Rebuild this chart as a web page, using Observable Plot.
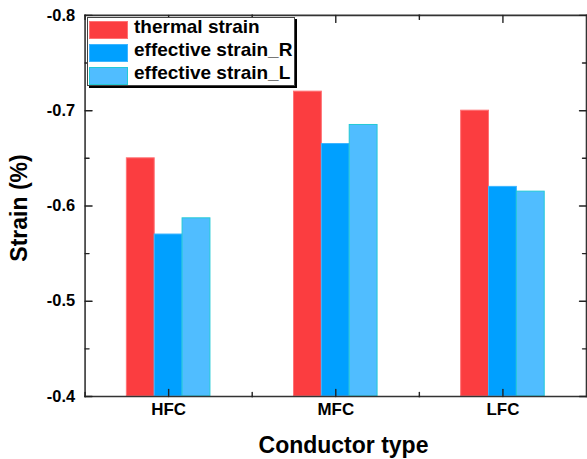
<!DOCTYPE html>
<html><head><meta charset="utf-8">
<script src="https://cdn.jsdelivr.net/npm/d3@7"></script>
<script src="https://cdn.jsdelivr.net/npm/@observablehq/plot@0.6"></script>
<style>
html,body{margin:0;padding:0;background:#fff;overflow:hidden;}
#wrap{position:relative;width:587px;height:459px;overflow:hidden;font-family:"Liberation Sans",Arial,sans-serif;color:#000;}
#wrap svg{position:absolute;left:0;top:0;}
.t{position:absolute;white-space:nowrap;font-weight:bold;line-height:normal;}
</style></head><body><div id="wrap"></div>
<script>
const categories = ["HFC", "MFC", "LFC"];
const seriesNames = ["thermal strain", "effective strain_R", "effective strain_L"];
const thermalStrain = [-0.65, -0.72, -0.70];
const effectiveStrainR = [-0.57, -0.665, -0.62];
const effectiveStrainL = [-0.587, -0.685, -0.615];
const fillColors = ["#fb3d40", "#00a0ff", "#50bdff"];
const strokeColors = ["#ff7275", "#3db5ff", "#22c9d6"];
const yMajorTicks = [-0.4, -0.5, -0.6, -0.7, -0.8];
const yMinorTicks = [-0.45, -0.55, -0.65, -0.75];
const yBase = -0.4;

const valuesBySeries = [thermalStrain, effectiveStrainR, effectiveStrainL];
const data = categories.flatMap((c, i) => seriesNames.map((s, j) => ({type: c, series: s, value: valuesBySeries[j][i]})));
const fillOf = s => fillColors[seriesNames.indexOf(s)];
const strokeOf = s => strokeColors[seriesNames.indexOf(s)];

const tickShape = {draw(ctx, l) { ctx.moveTo(0, 0); ctx.lineTo(0, -l); }};
const tk = {stroke: "#222", strokeWidth: 1.4, shape: tickShape, anchor: "start"};
const axisCol = "#333";

const chart = Plot.plot({
  width: 590, height: 459,
  marginLeft: 84, marginRight: 1, marginTop: 15, marginBottom: 61,
  style: {fontFamily: "Liberation Sans, Arial, sans-serif", background: "transparent"},
  fx: {domain: categories, padding: 0, label: null, axis: null},
  x: {domain: seriesNames, paddingInner: 0, paddingOuter: 1.5, axis: null},
  y: {domain: [yBase, -0.8], axis: null},
  marks: [
    Plot.barY(data, {fx: "type", x: "series", y1: yBase, y2: "value",
      fill: d => fillOf(d.series), stroke: d => strokeOf(d.series), strokeWidth: 1}),
    // frame lines
    Plot.frame({anchor: "top", stroke: axisCol, strokeWidth: 1.6}),
    Plot.frame({anchor: "bottom", stroke: axisCol, strokeWidth: 1.6}),
    Plot.frame({anchor: "left", stroke: axisCol, strokeWidth: 1.6, facetAnchor: "left"}),
    Plot.frame({anchor: "right", stroke: axisCol, strokeWidth: 1.6, facetAnchor: "right"}),
    // y ticks (inward)
    Plot.vector(yMajorTicks, {y: d => d, frameAnchor: "left", length: 7, rotate: 90, facetAnchor: "left", ...tk}),
    Plot.vector(yMinorTicks, {y: d => d, frameAnchor: "left", length: 4, rotate: 90, facetAnchor: "left", ...tk}),
    Plot.vector(yMajorTicks, {y: d => d, frameAnchor: "right", length: 7, rotate: -90, facetAnchor: "right", ...tk}),
    Plot.vector(yMinorTicks, {y: d => d, frameAnchor: "right", length: 4, rotate: -90, facetAnchor: "right", ...tk}),
    // y tick labels
    Plot.text(yMajorTicks, {y: d => d, text: d => d.toFixed(1), frameAnchor: "left", textAnchor: "end", dx: -10,
      fontSize: 16.5, fontWeight: "bold", fill: "#000", facetAnchor: "left"}),
    // x ticks: major at category centers, minor at group boundaries
    Plot.vector([0], {frameAnchor: "bottom", length: 7, rotate: 0, ...tk}),
    Plot.vector([0], {frameAnchor: "top", length: 7, rotate: 180, ...tk}),
    Plot.vector([0], {frameAnchor: "bottom-left", length: 4, rotate: 0, ...tk}),
    Plot.vector([0], {frameAnchor: "top-left", length: 4, rotate: 180, ...tk}),
    // category labels
    Plot.axisFx({anchor: "bottom", tickSize: 0, tickPadding: 7, fontSize: 17, fontWeight: "bold", label: null, fill: "#000"})
  ]
});
const wrap = document.getElementById("wrap");
wrap.appendChild(chart);

function addText(txt, css) {
  const d = document.createElement("div");
  d.className = "t";
  d.textContent = txt;
  Object.assign(d.style, css);
  wrap.appendChild(d);
  return d;
}
addText("Conductor type", {left: "343.5px", top: "432px", fontSize: "23px", transform: "translateX(-50%)"});
addText("Strain (%)", {left: "19px", top: "208px", fontSize: "23px", transform: "translate(-50%,-50%) rotate(-90deg)"});

// legend
const lg = document.createElement("div");
Object.assign(lg.style, {position: "absolute", left: "87px", top: "17px", width: "206px", height: "67px",
  border: "1px solid #444", boxShadow: "2px 2px 0 #000", background: "#fff"});
wrap.appendChild(lg);
seriesNames.forEach((s, i) => {
  const sw = document.createElement("div");
  Object.assign(sw.style, {position: "absolute", left: "1px", top: (3 + 23 * i) + "px", width: "37px", height: "16px",
    background: fillColors[i], border: "1px solid " + strokeColors[i]});
  lg.appendChild(sw);
  const tx = document.createElement("div");
  tx.className = "t";
  tx.textContent = s;
  Object.assign(tx.style, {left: "46px", top: (-2 + 23 * i) + "px", fontSize: "19px"});
  lg.appendChild(tx);
});
</script></body></html>
